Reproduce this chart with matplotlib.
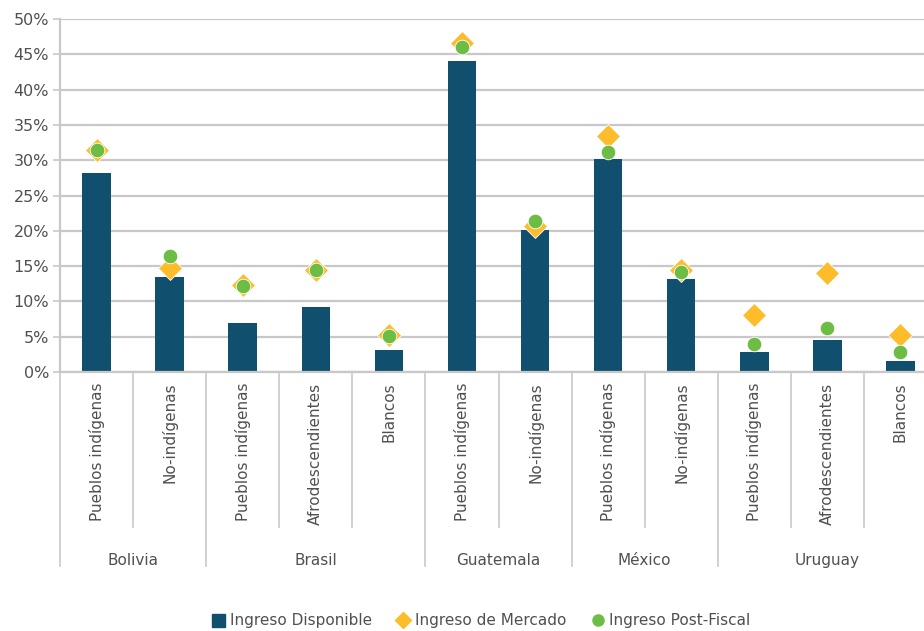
import matplotlib
matplotlib.use("Agg")
import matplotlib.pyplot as plt
from matplotlib.lines import Line2D
from matplotlib.patches import Patch
import matplotlib.transforms as mtransforms

# data (shares, %)
countries = ["Bolivia", "Brasil", "Guatemala", "México", "Uruguay"]
groups = [
    ["Pueblos indígenas", "No-indígenas"],
    ["Pueblos indígenas", "Afrodescendientes", "Blancos"],
    ["Pueblos indígenas", "No-indígenas"],
    ["Pueblos indígenas", "No-indígenas"],
    ["Pueblos indígenas", "Afrodescendientes", "Blancos"],
]
ingreso_disponible = [28.2, 13.5, 7.0, 9.2, 3.1, 44.0, 20.1, 30.2, 13.2, 2.8, 4.6, 1.6]
ingreso_mercado = [31.5, 14.7, 12.3, 14.5, 5.2, 46.6, 20.7, 33.4, 14.5, 8.1, 14.0, 5.2]
ingreso_postfiscal = [31.4, 16.4, 12.2, 14.4, 5.1, 46.0, 21.4, 31.2, 14.2, 3.9, 6.3, 2.9]

BAR = "#114f6e"
DIAM = "#fdbd2a"
CIRC = "#6dbd45"
GRID = "#c8c8c8"
TXT = "#505050"
FONT = "DejaVu Sans"

plt.rcParams["font.family"] = FONT

W, H = 924, 631
fig = plt.figure(figsize=(W / 100, H / 100), dpi=100)
ax = fig.add_axes([60 / W, (H - 372) / H, (937 - 60) / W, (372 - 19) / H])

labels = [lab for g in groups for lab in g]
x = list(range(len(labels)))

ax.bar(x, [v / 100 for v in ingreso_disponible], width=0.39, color=BAR, zorder=2)
ax.plot(x, [v / 100 for v in ingreso_mercado], linestyle="none", marker="D",
        markersize=12, color=DIAM, markeredgecolor="white", markeredgewidth=0.6, zorder=3)
ax.plot(x, [v / 100 for v in ingreso_postfiscal], linestyle="none", marker="o",
        markersize=10.5, color=CIRC, markeredgecolor="white", markeredgewidth=0.6, zorder=4)

ax.set_xlim(-0.5, len(labels) - 0.5)
ax.set_ylim(0, 0.5)
ax.set_yticks([i / 100 for i in range(0, 51, 5)])
ax.set_yticklabels([f"{i}%" for i in range(0, 51, 5)], fontsize=11.5, color=TXT)
ax.tick_params(axis="y", length=5, color=GRID, width=1.2, pad=3)
ax.set_xticks([])
ax.yaxis.grid(True, color=GRID, linewidth=1.6, zorder=0)
ax.set_axisbelow(True)
for s in ["top", "right"]:
    ax.spines[s].set_visible(False)
for s in ["left", "bottom"]:
    ax.spines[s].set_color(GRID)
    ax.spines[s].set_linewidth(1.6)

trans = mtransforms.blended_transform_factory(ax.transData, ax.transAxes)

# category labels and separators
pos = 0
for country, g in zip(countries, groups):
    start = pos
    for lab in g:
        ax.text(pos, -0.03, lab, rotation=90, ha="center", va="top",
                fontsize=11, color=TXT, transform=trans)
        if pos != start:
            ax.plot([pos - 0.5, pos - 0.5], [0, -0.44], color=GRID, linewidth=1.2,
                    transform=trans, clip_on=False)
        pos += 1
    ax.plot([start - 0.5, start - 0.5], [0, -0.55], color=GRID, linewidth=1.2,
            transform=trans, clip_on=False)
    ax.text((start + pos - 1) / 2, -0.535, country, ha="center", va="center",
            fontsize=11, color=TXT, transform=trans)
ax.plot([pos - 0.5, pos - 0.5], [0, -0.55], color=GRID, linewidth=1.2,
        transform=trans, clip_on=False)

handles = [
    Patch(facecolor=BAR, edgecolor=BAR),
    Line2D([], [], linestyle="none", marker="D", markersize=8, color=DIAM),
    Line2D([], [], linestyle="none", marker="o", markersize=8, color=CIRC),
]
fig.legend(handles, ["Ingreso Disponible", "Ingreso de Mercado", "Ingreso Post-Fiscal"],
           loc="center", bbox_to_anchor=(481 / W, 1 - 621 / H), ncol=3, frameon=False,
           fontsize=11, labelcolor=TXT, handlelength=0.9, handleheight=0.9,
           handletextpad=0.3, columnspacing=1.6)

fig.savefig("out.png", dpi=100)
